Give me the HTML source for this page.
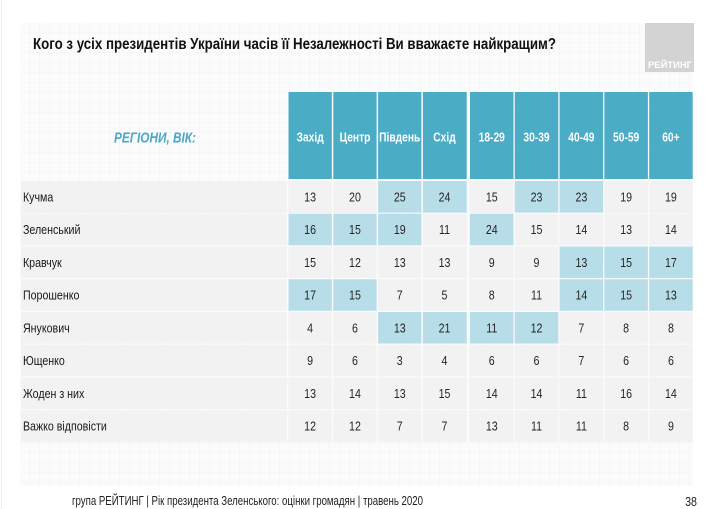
<!DOCTYPE html>
<html><head><meta charset="utf-8"><style>
html,body{margin:0;padding:0;background:#fff;}
svg{display:block;font-family:"Liberation Sans","DejaVu Sans",sans-serif;}
</style></head><body>
<svg width="713" height="509" viewBox="0 0 713 509" xmlns="http://www.w3.org/2000/svg">
<defs>
<pattern id="g" x="20" y="23" width="10" height="10" patternUnits="userSpaceOnUse">
<path d="M10 0V10M0 10H10" stroke="#ececec" stroke-width="0.6" fill="none"/>
</pattern>
</defs>
<rect width="713" height="509" fill="#fff"/>
<rect x="20" y="23" width="673" height="463" fill="#fbfbfb"/>
<rect x="20" y="23" width="673" height="463" fill="url(#g)"/>
<line x1="1.5" y1="0" x2="1.5" y2="509" stroke="#f0f0f0" stroke-width="1"/>

<!-- logo -->
<rect x="645" y="23" width="49" height="49" fill="#d3d3d3"/>
<text x="648" y="68" font-size="9" font-weight="bold" fill="#fff" textLength="44" lengthAdjust="spacingAndGlyphs">РЕЙТИНГ</text>

<!-- title -->
<text x="33" y="49" font-size="15.5" font-weight="bold" fill="#111" textLength="523" lengthAdjust="spacingAndGlyphs">Кого з усіх президентів України часів її Незалежності Ви вважаєте найкращим?</text>

<!-- region label -->
<text x="114" y="142.5" font-size="15" font-weight="bold" font-style="italic" fill="#4aa7c6" textLength="82" lengthAdjust="spacingAndGlyphs">РЕГІОНИ, ВІК:</text>

<!-- header cells -->
<g fill="#4bacc6">
<rect x="288.5" y="92" width="43.3" height="87"/>
<rect x="333.3" y="92" width="43.3" height="87"/>
<rect x="378.1" y="92" width="43.3" height="87"/>
<rect x="422.9" y="92" width="43.8" height="87"/>
<rect x="470" y="92" width="43.5" height="87"/>
<rect x="514.8" y="92" width="43.5" height="87"/>
<rect x="559.6" y="92" width="43.5" height="87"/>
<rect x="604.4" y="92" width="43.5" height="87"/>
<rect x="649.2" y="92" width="43.5" height="87"/>
</g>

<!-- label column -->
<g fill="#f2f2f2">
<rect x="21" y="181" width="266" height="31.5"/>
<rect x="21" y="213.75" width="266" height="31.5"/>
<rect x="21" y="246.5" width="266" height="31.5"/>
<rect x="21" y="279.25" width="266" height="31.5"/>
<rect x="21" y="312" width="266" height="31.5"/>
<rect x="21" y="344.75" width="266" height="31.5"/>
<rect x="21" y="377.5" width="266" height="31.5"/>
<rect x="21" y="410.25" width="266" height="31.5"/>
</g>

<!-- data cells -->
<g fill="#f2f2f2">
<rect x="288.5" y="181" width="43.3" height="31.5"/><rect x="333.3" y="181" width="43.3" height="31.5"/><rect x="378.1" y="181" width="43.3" height="31.5" fill="#b7dde8"/><rect x="422.9" y="181" width="43.8" height="31.5" fill="#b7dde8"/>
<rect x="470" y="181" width="43.5" height="31.5"/><rect x="514.8" y="181" width="43.5" height="31.5" fill="#b7dde8"/><rect x="559.6" y="181" width="43.5" height="31.5" fill="#b7dde8"/><rect x="604.4" y="181" width="43.5" height="31.5"/><rect x="649.2" y="181" width="43.5" height="31.5"/>
<rect x="288.5" y="213.75" width="43.3" height="31.5" fill="#b7dde8"/><rect x="333.3" y="213.75" width="43.3" height="31.5" fill="#b7dde8"/><rect x="378.1" y="213.75" width="43.3" height="31.5" fill="#b7dde8"/><rect x="422.9" y="213.75" width="43.8" height="31.5"/>
<rect x="470" y="213.75" width="43.5" height="31.5" fill="#b7dde8"/><rect x="514.8" y="213.75" width="43.5" height="31.5"/><rect x="559.6" y="213.75" width="43.5" height="31.5"/><rect x="604.4" y="213.75" width="43.5" height="31.5"/><rect x="649.2" y="213.75" width="43.5" height="31.5"/>
<rect x="288.5" y="246.5" width="43.3" height="31.5"/><rect x="333.3" y="246.5" width="43.3" height="31.5"/><rect x="378.1" y="246.5" width="43.3" height="31.5"/><rect x="422.9" y="246.5" width="43.8" height="31.5"/>
<rect x="470" y="246.5" width="43.5" height="31.5"/><rect x="514.8" y="246.5" width="43.5" height="31.5"/><rect x="559.6" y="246.5" width="43.5" height="31.5" fill="#b7dde8"/><rect x="604.4" y="246.5" width="43.5" height="31.5" fill="#b7dde8"/><rect x="649.2" y="246.5" width="43.5" height="31.5" fill="#b7dde8"/>
<rect x="288.5" y="279.25" width="43.3" height="31.5" fill="#b7dde8"/><rect x="333.3" y="279.25" width="43.3" height="31.5" fill="#b7dde8"/><rect x="378.1" y="279.25" width="43.3" height="31.5"/><rect x="422.9" y="279.25" width="43.8" height="31.5"/>
<rect x="470" y="279.25" width="43.5" height="31.5"/><rect x="514.8" y="279.25" width="43.5" height="31.5"/><rect x="559.6" y="279.25" width="43.5" height="31.5" fill="#b7dde8"/><rect x="604.4" y="279.25" width="43.5" height="31.5" fill="#b7dde8"/><rect x="649.2" y="279.25" width="43.5" height="31.5" fill="#b7dde8"/>
<rect x="288.5" y="312" width="43.3" height="31.5"/><rect x="333.3" y="312" width="43.3" height="31.5"/><rect x="378.1" y="312" width="43.3" height="31.5" fill="#b7dde8"/><rect x="422.9" y="312" width="43.8" height="31.5" fill="#b7dde8"/>
<rect x="470" y="312" width="43.5" height="31.5" fill="#b7dde8"/><rect x="514.8" y="312" width="43.5" height="31.5" fill="#b7dde8"/><rect x="559.6" y="312" width="43.5" height="31.5"/><rect x="604.4" y="312" width="43.5" height="31.5"/><rect x="649.2" y="312" width="43.5" height="31.5"/>
<rect x="288.5" y="344.75" width="43.3" height="31.5"/><rect x="333.3" y="344.75" width="43.3" height="31.5"/><rect x="378.1" y="344.75" width="43.3" height="31.5"/><rect x="422.9" y="344.75" width="43.8" height="31.5"/>
<rect x="470" y="344.75" width="43.5" height="31.5"/><rect x="514.8" y="344.75" width="43.5" height="31.5"/><rect x="559.6" y="344.75" width="43.5" height="31.5"/><rect x="604.4" y="344.75" width="43.5" height="31.5"/><rect x="649.2" y="344.75" width="43.5" height="31.5"/>
<rect x="288.5" y="377.5" width="43.3" height="31.5"/><rect x="333.3" y="377.5" width="43.3" height="31.5"/><rect x="378.1" y="377.5" width="43.3" height="31.5"/><rect x="422.9" y="377.5" width="43.8" height="31.5"/>
<rect x="470" y="377.5" width="43.5" height="31.5"/><rect x="514.8" y="377.5" width="43.5" height="31.5"/><rect x="559.6" y="377.5" width="43.5" height="31.5"/><rect x="604.4" y="377.5" width="43.5" height="31.5"/><rect x="649.2" y="377.5" width="43.5" height="31.5"/>
<rect x="288.5" y="410.25" width="43.3" height="31.5"/><rect x="333.3" y="410.25" width="43.3" height="31.5"/><rect x="378.1" y="410.25" width="43.3" height="31.5"/><rect x="422.9" y="410.25" width="43.8" height="31.5"/>
<rect x="470" y="410.25" width="43.5" height="31.5"/><rect x="514.8" y="410.25" width="43.5" height="31.5"/><rect x="559.6" y="410.25" width="43.5" height="31.5"/><rect x="604.4" y="410.25" width="43.5" height="31.5"/><rect x="649.2" y="410.25" width="43.5" height="31.5"/>
</g>

<!-- condensed text layer -->
<g transform="scale(0.82,1)" font-size="12.5">
<g fill="#fff" font-weight="bold" text-anchor="middle">
<text x="378.2" y="141.5">Захід</text>
<text x="432.9" y="141.5">Центр</text>
<text x="487.5" y="141.5">Південь</text>
<text x="542.1" y="141.5">Схід</text>
<text x="599.7" y="141.5">18-29</text>
<text x="654.3" y="141.5">30-39</text>
<text x="709.0" y="141.5">40-49</text>
<text x="763.6" y="141.5">50-59</text>
<text x="818.2" y="141.5">60+</text>
</g>
<g fill="#1a1a1a" font-size="13">
<text x="28" y="201.5">Кучма</text>
<text x="28" y="234.2">Зеленський</text>
<text x="28" y="267">Кравчук</text>
<text x="28" y="299.7">Порошенко</text>
<text x="28" y="332.5">Янукович</text>
<text x="28" y="365.2">Ющенко</text>
<text x="28" y="398">Жоден з них</text>
<text x="28" y="430.7">Важко відповісти</text>
</g>
<g fill="#262626" text-anchor="middle" font-size="13">
<text y="201.5"><tspan x="378.2">13</tspan><tspan x="432.9">20</tspan><tspan x="487.5">25</tspan><tspan x="542.1">24</tspan><tspan x="599.7">15</tspan><tspan x="654.3">23</tspan><tspan x="709.0">23</tspan><tspan x="763.6">19</tspan><tspan x="818.2">19</tspan></text>
<text y="234.2"><tspan x="378.2">16</tspan><tspan x="432.9">15</tspan><tspan x="487.5">19</tspan><tspan x="542.1">11</tspan><tspan x="599.7">24</tspan><tspan x="654.3">15</tspan><tspan x="709.0">14</tspan><tspan x="763.6">13</tspan><tspan x="818.2">14</tspan></text>
<text y="267"><tspan x="378.2">15</tspan><tspan x="432.9">12</tspan><tspan x="487.5">13</tspan><tspan x="542.1">13</tspan><tspan x="599.7">9</tspan><tspan x="654.3">9</tspan><tspan x="709.0">13</tspan><tspan x="763.6">15</tspan><tspan x="818.2">17</tspan></text>
<text y="299.7"><tspan x="378.2">17</tspan><tspan x="432.9">15</tspan><tspan x="487.5">7</tspan><tspan x="542.1">5</tspan><tspan x="599.7">8</tspan><tspan x="654.3">11</tspan><tspan x="709.0">14</tspan><tspan x="763.6">15</tspan><tspan x="818.2">13</tspan></text>
<text y="332.5"><tspan x="378.2">4</tspan><tspan x="432.9">6</tspan><tspan x="487.5">13</tspan><tspan x="542.1">21</tspan><tspan x="599.7">11</tspan><tspan x="654.3">12</tspan><tspan x="709.0">7</tspan><tspan x="763.6">8</tspan><tspan x="818.2">8</tspan></text>
<text y="365.2"><tspan x="378.2">9</tspan><tspan x="432.9">6</tspan><tspan x="487.5">3</tspan><tspan x="542.1">4</tspan><tspan x="599.7">6</tspan><tspan x="654.3">6</tspan><tspan x="709.0">7</tspan><tspan x="763.6">6</tspan><tspan x="818.2">6</tspan></text>
<text y="398"><tspan x="378.2">13</tspan><tspan x="432.9">14</tspan><tspan x="487.5">13</tspan><tspan x="542.1">15</tspan><tspan x="599.7">14</tspan><tspan x="654.3">14</tspan><tspan x="709.0">11</tspan><tspan x="763.6">16</tspan><tspan x="818.2">14</tspan></text>
<text y="430.7"><tspan x="378.2">12</tspan><tspan x="432.9">12</tspan><tspan x="487.5">7</tspan><tspan x="542.1">7</tspan><tspan x="599.7">13</tspan><tspan x="654.3">11</tspan><tspan x="709.0">11</tspan><tspan x="763.6">8</tspan><tspan x="818.2">9</tspan></text>
</g>
<text x="842.7" y="506" fill="#222" text-anchor="middle" font-size="13">38</text>
</g>

<!-- footer -->
<text x="72" y="505" font-size="12.5" fill="#222" textLength="351" lengthAdjust="spacingAndGlyphs">група РЕЙТИНГ |  Рік президента Зеленського: оцінки громадян | травень 2020</text>
</svg>
</body></html>
